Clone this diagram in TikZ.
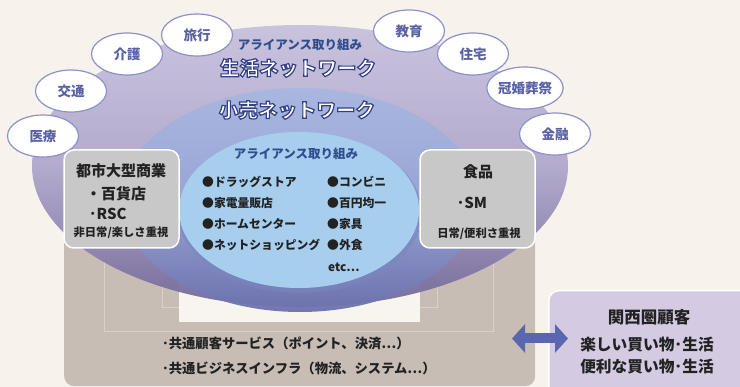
\documentclass[tikz,border=0pt]{standalone}
\usepackage{fontspec}
\setmainfont{Noto Sans CJK JP}
\usetikzlibrary{shapes.geometric,arrows.meta}
\definecolor{bg}{HTML}{F7F3EC}
\definecolor{brownc}{HTML}{C8BDB5}
\definecolor{creamc}{HTML}{F8F4EE}
\definecolor{outerTop}{HTML}{C8C1DD}
\definecolor{outerMid}{HTML}{B0A7CC}
\definecolor{outerBot}{HTML}{74699A}
\definecolor{midTop}{HTML}{A8B6E0}
\definecolor{midMid}{HTML}{98A6D6}
\definecolor{midBot}{HTML}{6C71AD}
\definecolor{innerc}{HTML}{A8CEEE}
\definecolor{innershadow}{HTML}{7A86C0}
\definecolor{tagline}{HTML}{8A91CC}
\definecolor{tagtext}{HTML}{5861A6}
\definecolor{alliance}{HTML}{2E4E8E}
\definecolor{grayc}{HTML}{C8C8C8}
\definecolor{custc}{HTML}{D4CAE2}
\definecolor{arrowc}{HTML}{5A66AE}
\definecolor{txt}{HTML}{222222}
\newcommand\fsz[1]{\fontsize{#1}{#1}\selectfont}
\newcommand\outlined[1]{\special{pdf:literal direct 2 Tr 1.2 w 0.20 0.26 0.52 RG}#1\special{pdf:literal direct 0 Tr}}
\tikzset{
  tag/.style={ellipse, draw=tagline, line width=1.2pt, fill=white, minimum width=71pt, minimum height=42pt, inner sep=0pt, font=\bfseries\fsz{13.5}, text=tagtext},
  graybox/.style={draw=white, line width=1.5pt, fill=grayc, rounded corners=10pt, minimum width=115pt, minimum height=98pt, inner sep=0pt},
  listitem/.style={anchor=west, inner sep=0pt, font=\bfseries\fsz{11.8}, text=txt},
  boxtxt/.style={inner sep=0pt, text=txt},
  faint/.style={draw=white, opacity=0.3, line width=0.5pt},
  headtxt/.style={inner sep=0pt, font=\bfseries\fsz{19.5}, text=white},
  alltxt/.style={inner sep=0pt, font=\bfseries\fsz{12.5}, text=alliance}
}
\begin{document}
\begin{tikzpicture}[x=1pt,y=-1pt]
\useasboundingbox (0,0) rectangle (740,387);
\clip (0,0) rectangle (740,387);
\fill[bg] (0,0) rectangle (740,387);
% base panel
\node[fill=brownc, rounded corners=10pt, minimum width=471pt, minimum height=236pt, inner sep=0pt, anchor=north west] (base) at (64,150) {};
\node[fill=creamc, minimum width=241pt, minimum height=122pt, inner sep=0pt, anchor=north west] (hole) at (179,200) {};
% faint grid lines
\draw[faint] (104,50) -- (104,331) -- (493,331) -- (493,60);
\draw[faint] (162,110) -- (162,307) -- (437,307) -- (437,100);
\draw[faint] (162,183) -- (437,183);
\draw[faint] (162,229) -- (437,229);
% ellipses
\node[ellipse, inner sep=0pt, minimum width=536pt, minimum height=282pt, top color=outerTop, bottom color=outerBot, middle color=outerMid, opacity=0.95] (life) at (300,166) {};
\node[ellipse, inner sep=0pt, minimum width=356pt, minimum height=224pt, top color=midTop, bottom color=midBot, middle color=midMid, opacity=0.95] (retail) at (300,200) {};
\node[ellipse, inner sep=0pt, minimum width=244pt, minimum height=160pt, fill=innershadow, opacity=0.55] (innersh) at (300,213) {};
\node[ellipse, inner sep=0pt, minimum width=240pt, minimum height=156pt, fill=innerc] (inner) at (299,210) {};
% tags
\node[tag] (t1) at (43,136) {医療};
\node[tag] (t2) at (71,91) {交通};
\node[tag] (t3) at (127,54) {介護};
\node[tag] (t4) at (197,35) {旅行};
\node[tag] (t5) at (409,31) {教育};
\node[tag] (t6) at (473,54) {住宅};
\node[tag] (t7) at (525,88) {冠婚葬祭};
\node[tag] (t8) at (555,134) {金融};
% headings
\node[alltxt] (all1) at (300,45) {アライアンス取り組み};
\node[headtxt] (life-t) at (298,68) {\outlined{生活ネットワーク}};
\node[headtxt] (retail-t) at (297,110) {\outlined{小売ネットワーク}};
\node[alltxt] (all2) at (296,154) {アライアンス取り組み};
% list
\node[listitem] (l1) at (202,182) {●ドラッグストア};
\node[listitem] (l2) at (202,203) {●家電量販店};
\node[listitem] (l3) at (202,224) {●ホームセンター};
\node[listitem] (l4) at (202,245) {●ネットショッピング};
\node[listitem] (r1) at (327,182) {●コンビニ};
\node[listitem] (r2) at (327,203) {●百円均一};
\node[listitem] (r3) at (327,224) {●家具};
\node[listitem] (r4) at (327,245) {●外食};
\node[listitem] (r5) at (328,267) {etc⋯};
% gray boxes
\node[graybox] (city) at (121.5,199) {};
\node[boxtxt, font=\bfseries\fsz{15}] (city-h) at (121,171) {都市大型商業};
\node[boxtxt, font=\bfseries\fsz{15}, anchor=west] (city-a) at (86,194) {・百貨店};
\node[boxtxt, font=\bfseries\fsz{15}, anchor=west] (city-b) at (89,214) {･RSC};
\node[boxtxt, font=\bfseries\fsz{11.3}] (city-c) at (121,233) {非日常/楽しさ重視};
\node[graybox] (food) at (477.5,199) {};
\node[boxtxt, font=\bfseries\fsz{15}] (food-h) at (478,172) {食品};
\node[boxtxt, font=\bfseries\fsz{15}] (food-a) at (472,203) {･SM};
\node[boxtxt, font=\bfseries\fsz{11.3}] (food-c) at (479,234) {日常/便利さ重視};
% bottom lines
\node[boxtxt, anchor=west, font=\bfseries\fsz{13.3}] (s1) at (162,343) {･共通顧客サービス（ポイント、決済⋯）};
\node[boxtxt, anchor=west, font=\bfseries\fsz{13.3}] (s2) at (162,368) {･共通ビジネスインフラ（物流、システム⋯）};
% customer box
\node[draw=white, line width=1.5pt, fill=custc, rounded corners=10pt, minimum width=212pt, minimum height=130pt, inner sep=0pt, anchor=north west] (cust) at (548,290) {};
\node[boxtxt, font=\bfseries\fsz{16.5}] (cust-h) at (649,317) {関西圏顧客};
\node[boxtxt, font=\bfseries\fsz{15.7}] (cust-a) at (647,345) {楽しい買い物･生活};
\node[boxtxt, font=\bfseries\fsz{15.7}] (cust-b) at (647,367) {便利な買い物･生活};
% arrow
\coordinate (aL) at (512,338.5);
\coordinate (aR) at (568,338.5);
\draw[arrowc, line width=10pt, {Triangle[length=13pt,width=28pt]}-{Triangle[length=13pt,width=28pt]}] (aL) -- (aR);
\end{tikzpicture}
\end{document}
